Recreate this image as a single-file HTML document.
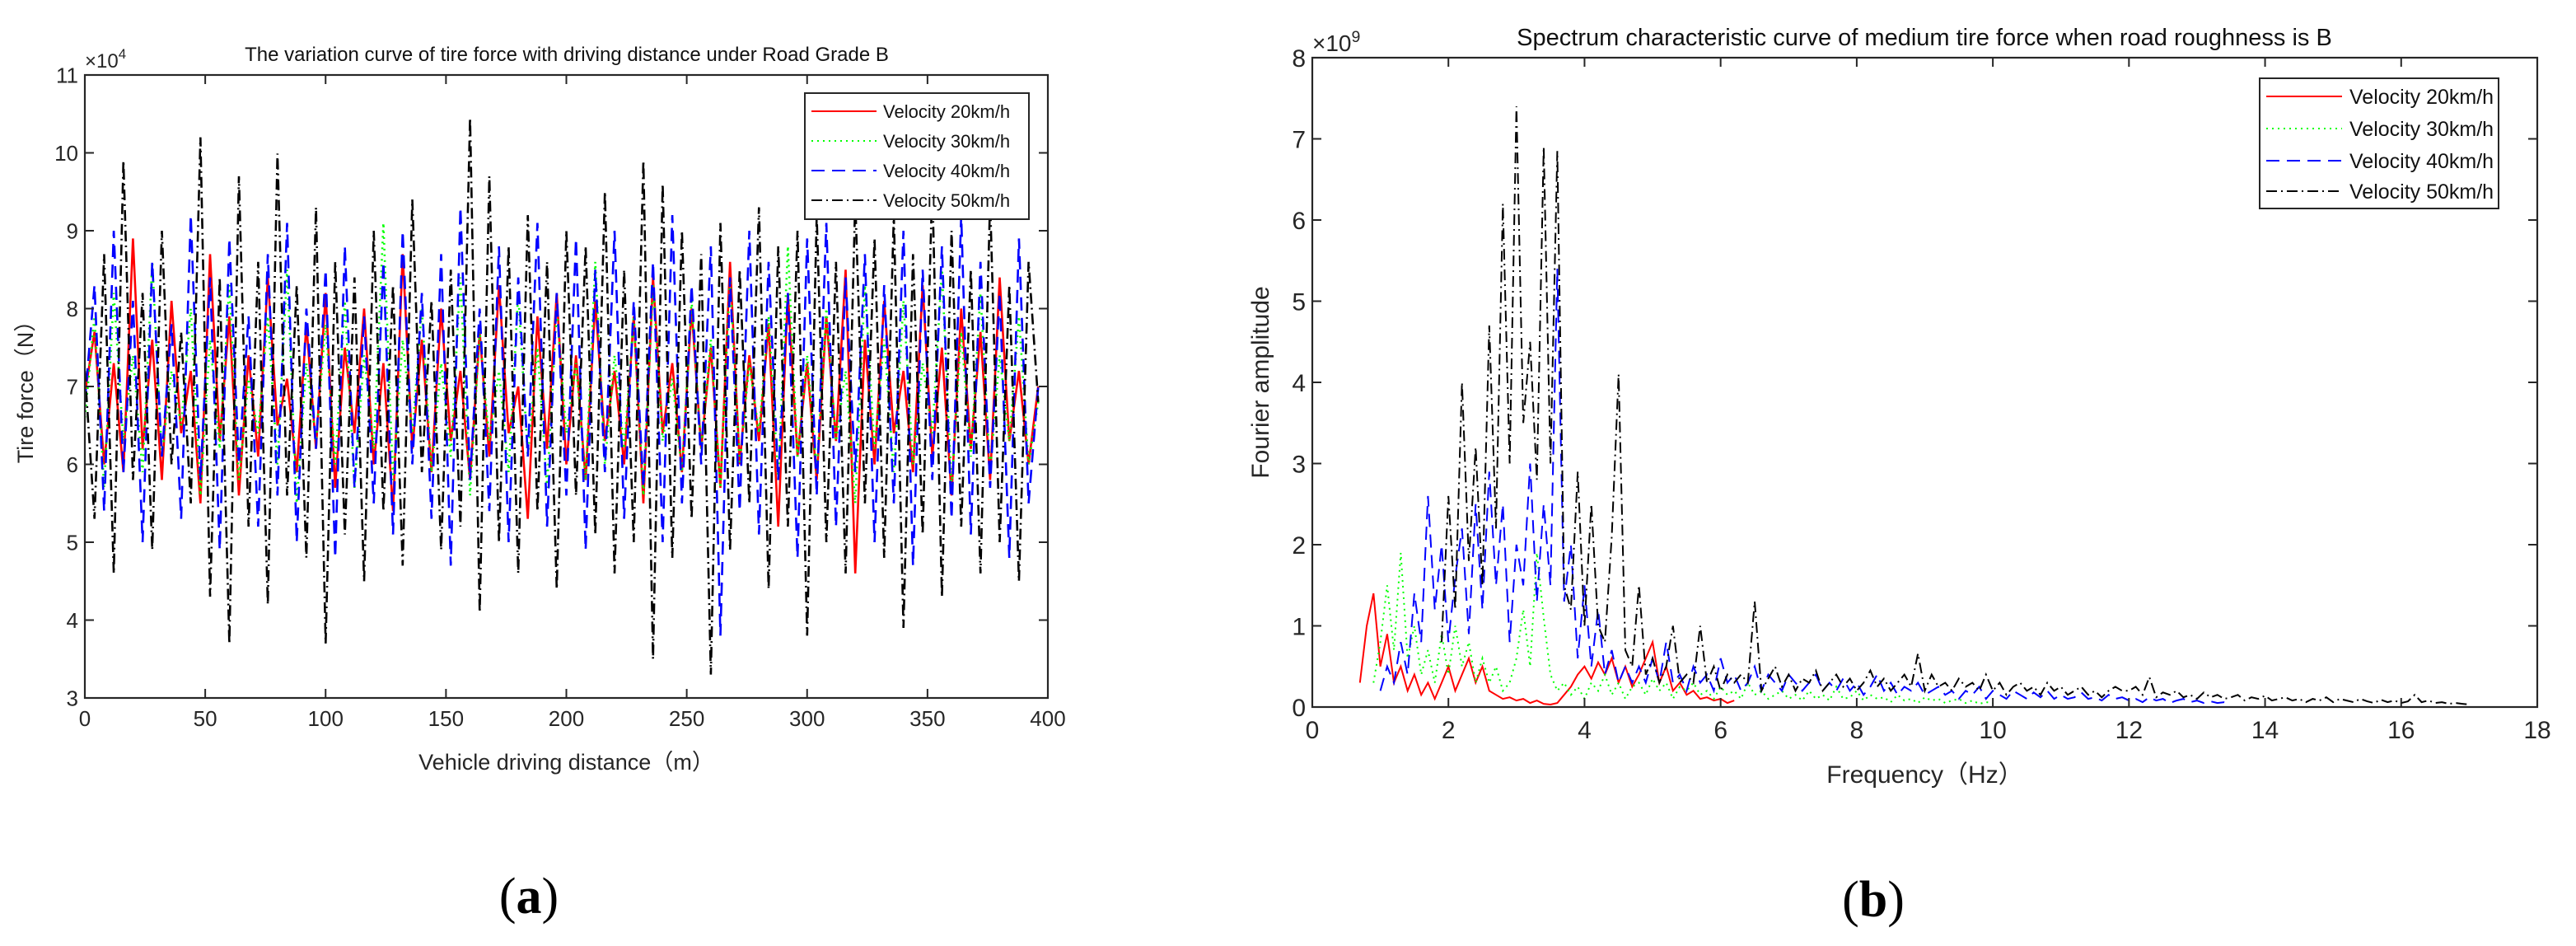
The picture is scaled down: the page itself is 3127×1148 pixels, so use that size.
<!DOCTYPE html>
<html><head><meta charset="utf-8">
<style>
html,body{margin:0;padding:0;background:#fff;}
svg{display:block;font-family:"Liberation Sans",Arial,sans-serif;}
</style></head>
<body>
<svg id="fig" width="3127" height="1148" viewBox="0 0 3127 1148" xmlns="http://www.w3.org/2000/svg">
<rect x="0" y="0" width="3127" height="1148" fill="#fff"/>
<g id="chartA"></g>
<g id="chartB"></g>
<text x="642" y="1108" text-anchor="middle" font-family="Liberation Serif, serif" font-size="62" fill="#000">(<tspan font-weight="bold">a</tspan>)</text>
<text x="2274" y="1112" text-anchor="middle" font-family="Liberation Serif, serif" font-size="62" fill="#000">(<tspan font-weight="bold">b</tspan>)</text>
</svg>
<script>
// ---------- Chart A data (tire force, x10^4 N) ----------
const aX0 = 0;
const aDx = 4;
const aXTicks = [0,50,100,150,200,250,300,350,400];
const aYTicks = [3,4,5,6,7,8,9,10,11];
const aSeriesNames = ["Velocity 20km/h","Velocity 30km/h","Velocity 40km/h","Velocity 50km/h"];
const aV20 = [6.9,7.7,6.0,7.3,5.9,8.9,6.2,7.6,5.8,8.1,6.4,7.2,5.5,8.7,6.3,7.9,5.6,7.4,6.1,8.4,6.5,7.1,5.9,7.8,6.2,8.2,5.7,7.5,6.4,8.0,6.0,7.3,5.4,8.7,6.2,7.6,5.9,8.0,6.3,7.2,5.8,7.7,6.1,8.3,6.4,7.0,5.3,7.9,6.2,8.2,6.0,7.4,5.8,8.1,6.3,7.2,6.0,7.9,5.5,8.4,6.4,7.3,5.9,8.0,6.2,7.5,5.7,8.6,6.0,7.4,6.3,7.8,5.2,8.2,6.1,7.3,5.8,7.9,6.3,8.5,4.6,7.6,6.0,8.1,6.4,7.2,5.9,8.3,6.1,7.5,5.6,8.0,6.2,7.7,5.8,8.4,6.3,7.2,6.0,7.0];
const aV30 = [6.6,7.9,5.7,8.2,6.3,7.4,5.9,8.6,6.1,7.2,6.5,8.0,5.6,7.6,6.2,8.3,5.8,7.1,6.4,7.9,6.0,8.5,5.5,7.3,6.3,7.8,6.0,8.1,5.7,7.4,6.2,9.1,5.8,7.6,6.4,8.0,5.9,7.3,6.1,8.4,5.6,7.7,6.3,7.2,5.9,8.2,6.1,7.5,5.7,8.0,6.4,7.3,5.8,8.6,6.0,7.4,6.2,7.9,5.6,8.3,6.3,7.1,5.9,8.1,6.2,7.6,5.7,8.4,6.0,7.3,6.4,7.9,5.8,8.8,6.1,7.4,5.9,8.0,6.3,7.2,5.5,8.3,6.2,7.6,5.9,8.1,6.0,7.3,6.4,8.5,5.7,7.7,6.1,8.2,5.9,7.4,6.3,7.9,6.0,6.8];
const aV40 = [6.8,8.3,5.4,9.0,5.9,8.1,5.0,8.6,6.1,7.8,5.3,9.2,5.8,8.4,4.9,8.9,6.0,7.9,5.2,8.7,5.6,9.1,5.0,8.0,6.2,8.5,4.8,8.8,5.7,7.9,5.5,8.6,5.1,9.0,6.0,8.2,5.3,8.7,4.7,9.3,5.8,8.0,5.4,8.8,5.0,8.4,6.1,9.1,5.2,8.2,5.6,8.9,4.9,8.5,5.9,9.0,5.3,8.1,5.7,8.6,5.0,9.2,5.5,8.3,6.0,8.8,3.8,8.4,5.4,9.0,5.1,8.6,5.8,8.2,4.8,8.9,5.6,9.1,5.2,8.4,5.9,8.7,5.0,8.3,5.5,9.0,4.7,8.5,5.8,8.8,5.3,9.2,5.1,8.6,5.7,8.2,4.8,8.9,5.5,7.0];
const aV50 = [7.2,5.3,8.7,4.6,9.9,5.8,8.2,4.9,9.0,6.0,7.7,5.5,10.2,4.3,8.4,3.7,9.7,5.2,8.6,4.2,9.99,5.6,8.3,4.8,9.3,3.7,8.6,5.1,8.4,4.5,9.0,5.4,8.3,4.7,9.4,5.9,8.1,4.9,8.5,5.2,10.45,4.1,9.7,5.0,8.8,4.6,9.2,5.4,8.6,4.4,9.0,5.6,8.8,5.1,9.5,4.6,8.5,5.0,9.9,3.5,9.6,4.8,9.0,5.3,8.7,3.3,9.1,4.9,8.5,5.5,9.3,4.4,8.8,5.2,9.0,3.8,9.2,5.0,8.6,4.6,9.4,5.5,8.9,4.8,9.2,3.9,8.7,5.1,9.6,4.3,9.0,5.2,8.5,4.6,9.4,5.0,8.3,4.5,8.6,6.8];

// ---------- Chart B data (Fourier amplitude, x10^9) ----------
const bXTicks = [0,2,4,6,8,10,12,14,16,18];
const bYTicks = [0,1,2,3,4,5,6,7,8];
const bDf = 0.1;
const bF0_20 = 0.7;
const bV20 = [0.3,1.0,1.4,0.5,0.9,0.3,0.5,0.2,0.4,0.15,0.3,0.1,0.3,0.5,0.2,0.4,0.6,0.3,0.5,0.2,0.15,0.1,0.12,0.08,0.1,0.05,0.08,0.04,0.03,0.05,0.15,0.25,0.4,0.5,0.35,0.55,0.4,0.6,0.3,0.5,0.25,0.4,0.6,0.8,0.3,0.5,0.2,0.3,0.15,0.2,0.1,0.12,0.08,0.1,0.05,0.08];
const bF0_30 = 0.9;
const bV30 = [0.3,0.8,1.5,0.7,1.9,0.6,1.0,0.4,0.7,0.3,0.9,0.4,1.0,0.5,0.8,0.3,0.6,0.3,0.5,0.2,0.3,0.6,1.2,0.5,1.9,1.1,0.4,0.2,0.3,0.15,0.25,0.1,0.3,0.2,0.4,0.15,0.3,0.1,0.25,0.3,0.15,0.35,0.2,0.3,0.1,0.25,0.2,0.3,0.15,0.2,0.1,0.25,0.15,0.2,0.1,0.3,0.15,0.2,0.1,0.15,0.2,0.1,0.15,0.08,0.2,0.1,0.15,0.08,0.25,0.1,0.12,0.2,0.08,0.15,0.1,0.12,0.06,0.15,0.08,0.1,0.05,0.12,0.08,0.1,0.05,0.08,0.1,0.05,0.08,0.04,0.06,0.05];
const bF0_40 = 1.0;
const bV40 = [0.2,0.5,0.3,0.8,0.4,1.4,0.8,2.6,1.2,2.0,0.8,1.6,2.2,0.9,2.5,1.2,2.9,1.5,2.5,0.8,2.0,1.5,3.0,1.3,2.5,1.5,5.4,1.3,2.0,0.6,1.5,0.5,1.2,0.4,0.7,0.3,0.5,0.3,0.5,0.3,0.6,0.3,0.8,0.3,0.4,0.2,0.5,0.3,0.4,0.2,0.6,0.3,0.4,0.2,0.3,0.5,0.2,0.4,0.3,0.2,0.4,0.3,0.2,0.3,0.4,0.2,0.3,0.2,0.35,0.2,0.3,0.15,0.25,0.4,0.2,0.3,0.15,0.25,0.2,0.3,0.15,0.2,0.25,0.15,0.2,0.1,0.2,0.15,0.25,0.1,0.2,0.15,0.1,0.2,0.15,0.1,0.18,0.12,0.2,0.1,0.15,0.1,0.12,0.18,0.1,0.12,0.08,0.15,0.1,0.12,0.08,0.1,0.06,0.12,0.08,0.1,0.05,0.08,0.1,0.06,0.08,0.05,0.07,0.05,0.06,0.04];
const bF0_50 = 1.9;
const bV50 = [0.8,2.6,1.2,4.0,1.8,3.2,1.5,4.7,2.2,6.2,3.0,7.4,3.5,4.5,2.8,6.9,3.0,6.85,1.5,1.2,2.9,1.0,2.5,1.0,0.8,2.1,4.1,0.7,0.5,1.5,0.4,0.6,0.3,0.5,1.0,0.3,0.4,0.3,1.0,0.3,0.5,0.2,0.4,0.3,0.4,0.3,1.3,0.2,0.35,0.5,0.25,0.4,0.2,0.35,0.3,0.45,0.2,0.3,0.4,0.25,0.35,0.2,0.3,0.45,0.25,0.35,0.2,0.3,0.4,0.25,0.66,0.2,0.4,0.25,0.3,0.2,0.35,0.25,0.3,0.2,0.4,0.2,0.3,0.15,0.25,0.3,0.2,0.25,0.15,0.3,0.2,0.25,0.15,0.2,0.25,0.15,0.2,0.12,0.2,0.25,0.2,0.2,0.25,0.15,0.37,0.12,0.18,0.15,0.2,0.12,0.15,0.1,0.18,0.12,0.15,0.1,0.12,0.15,0.08,0.12,0.1,0.14,0.08,0.1,0.12,0.08,0.1,0.06,0.1,0.08,0.12,0.06,0.1,0.08,0.06,0.1,0.07,0.05,0.09,0.06,0.08,0.05,0.07,0.15,0.06,0.08,0.05,0.06,0.04,0.05,0.04,0.03];

const NS = "http://www.w3.org/2000/svg";
function mk(tag, attrs, parent){
  const e = document.createElementNS(NS, tag);
  for (const k in attrs) e.setAttribute(k, attrs[k]);
  if (parent) parent.appendChild(e);
  return e;
}
const styles = [
  {color:"#ff0000", dash:"none"},
  {color:"#00ff00", dash:"2 5"},
  {color:"#0000ff", dash:"16 9"},
  {color:"#000000", dash:"13 5 2 5"}
];

function drawChart(g, cfg){
  const sx = v => cfg.x0 + (v - cfg.xmin) / (cfg.xmax - cfg.xmin) * (cfg.x1 - cfg.x0);
  const sy = v => cfg.y1 - (v - cfg.ymin) / (cfg.ymax - cfg.ymin) * (cfg.y1 - cfg.y0);
  const clipId = cfg.id + "clip";
  const defs = mk("defs", {}, g);
  const cp = mk("clipPath", {id: clipId}, defs);
  mk("rect", {x: cfg.x0, y: cfg.y0, width: cfg.x1 - cfg.x0, height: cfg.y1 - cfg.y0}, cp);
  const sg = mk("g", {"clip-path": "url(#" + clipId + ")"}, g);
  cfg.series.forEach((s, i) => {
    let d = "";
    s.values.forEach((v, j) => {
      const x = s.f0 + j * s.df;
      d += (j ? "L" : "M") + sx(x).toFixed(1) + "," + sy(v).toFixed(1);
    });
    const p = mk("path", {d: d, fill: "none", stroke: styles[i].color, "stroke-width": cfg.sw, "stroke-dasharray": styles[i].dash, "stroke-linejoin": "miter"}, sg);
    
    
  });
  const box = mk("rect", {x: cfg.x0, y: cfg.y0, width: cfg.x1 - cfg.x0, height: cfg.y1 - cfg.y0, fill: "none", stroke: "#262626", "stroke-width": 2.2}, g);
  
  
  cfg.xTicks.forEach(t => {
    const x = sx(t);
    mk("line", {x1: x, x2: x, y1: cfg.y1, y2: cfg.y1 - 11, stroke: "#262626", "stroke-width": 2}, g);
    mk("line", {x1: x, x2: x, y1: cfg.y0, y2: cfg.y0 + 11, stroke: "#262626", "stroke-width": 2}, g);
    const tx = mk("text", {x: x, y: cfg.y1 + cfg.tf + 8, "text-anchor": "middle", "font-size": cfg.tf, fill: "#262626"}, g);
    tx.textContent = t;
    
    
  });
  cfg.yTicks.forEach(t => {
    const y = sy(t);
    mk("line", {x1: cfg.x0, x2: cfg.x0 + 11, y1: y, y2: y, stroke: "#262626", "stroke-width": 2}, g);
    mk("line", {x1: cfg.x1, x2: cfg.x1 - 11, y1: y, y2: y, stroke: "#262626", "stroke-width": 2}, g);
    const tx = mk("text", {x: cfg.x0 - 8, y: y + cfg.tf * 0.36, "text-anchor": "end", "font-size": cfg.tf, fill: "#262626"}, g);
    tx.textContent = t;
    
    
  });
  const ex = mk("text", {x: cfg.x0, y: cfg.expY, "font-size": cfg.tf - 2, fill: "#262626"}, g);
  ex.innerHTML = "×10<tspan dy='-11' font-size='" + (cfg.tf * 0.65) + "'>" + cfg.exp + "</tspan>";
  
  
  const ti = mk("text", {x: cfg.titleX, y: cfg.titleY, "text-anchor": "middle", "font-size": cfg.titleF, fill: "#111"}, g);
  ti.textContent = cfg.title;
  
  
  const xt = mk("text", {x: (cfg.x0 + cfg.x1) / 2, y: cfg.xTitleY, "text-anchor": "middle", "font-size": cfg.axF, fill: "#262626"}, g);
  xt.textContent = cfg.xTitle;
  
  
  const yt = mk("text", {x: 0, y: 0, "text-anchor": "middle", "font-size": cfg.axF, fill: "#262626", transform: "translate(" + cfg.yTitleX + "," + ((cfg.y0 + cfg.y1) / 2) + ") rotate(-90)"}, g);
  yt.textContent = cfg.yTitle;
  
  
  const L = cfg.legend;
  const lg = mk("g", {}, g);
  
  
  mk("rect", {x: L.x, y: L.y, width: L.w, height: L.h, fill: "#fff", stroke: "#262626", "stroke-width": 2}, lg);
  aSeriesNames.forEach((n, i) => {
    const ry = L.rows[i];
    const ln = mk("line", {x1: L.lx1, x2: L.lx2, y1: ry, y2: ry, stroke: styles[i].color, "stroke-width": 2, "stroke-dasharray": styles[i].dash}, lg);
    
    
    const tx = mk("text", {x: L.tx, y: ry + L.f * 0.36, "font-size": L.f, fill: "#111"}, lg);
    tx.textContent = n;
    
    
  });
}

drawChart(document.getElementById("chartA"), {
  id: "a", x0: 103, x1: 1272, y0: 91, y1: 847, xmin: 0, xmax: 400, ymin: 3, ymax: 11, sw: 2.6,
  xTicks: aXTicks, yTicks: aYTicks, tf: 26, exp: "4", expY: 82,
  title: "The variation curve of tire force with driving distance under Road Grade B",
  titleX: 688, titleY: 74, titleF: 24,
  xTitle: "Vehicle driving distance（m）", xTitleY: 934, axF: 27,
  yTitle: "Tire force（N）", yTitleX: 40,
  legend: {x: 977, y: 113, w: 272, h: 153, rows: [135,171,207,243], lx1: 985, lx2: 1064, tx: 1072, f: 22},
  series: [
    {key: "20kmh", f0: aX0, df: aDx, values: aV20},
    {key: "30kmh", f0: aX0, df: aDx, values: aV30},
    {key: "40kmh", f0: aX0, df: aDx, values: aV40},
    {key: "50kmh", f0: aX0, df: aDx, values: aV50}
  ]
});

drawChart(document.getElementById("chartB"), {
  id: "b", x0: 1593, x1: 3080, y0: 70, y1: 858, xmin: 0, xmax: 18, ymin: 0, ymax: 8, sw: 2,
  xTicks: bXTicks, yTicks: bYTicks, tf: 30, exp: "9", expY: 62,
  title: "Spectrum characteristic curve of medium tire force when road roughness is B",
  titleX: 2336, titleY: 55, titleF: 29,
  xTitle: "Frequency（Hz）", xTitleY: 950, axF: 30,
  yTitle: "Fourier amplitude", yTitleX: 1540,
  legend: {x: 2743, y: 95, w: 290, h: 158, rows: [117,156,195,232], lx1: 2751, lx2: 2843, tx: 2852, f: 25},
  series: [
    {key: "20kmh", f0: bF0_20, df: bDf, values: bV20},
    {key: "30kmh", f0: bF0_30, df: bDf, values: bV30},
    {key: "40kmh", f0: bF0_40, df: bDf, values: bV40},
    {key: "50kmh", f0: bF0_50, df: bDf, values: bV50}
  ]
});
</script>
</body></html>
